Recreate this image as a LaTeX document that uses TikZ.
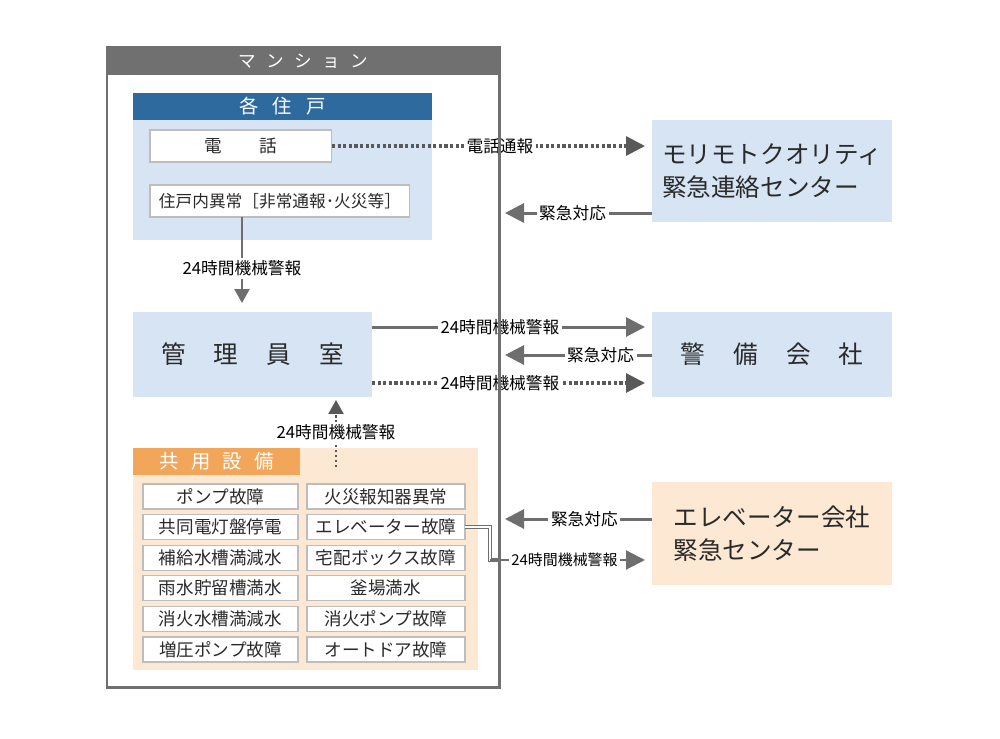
\documentclass[tikz,border=0pt]{standalone}
\usepackage{fontspec}
\setmainfont{Noto Sans CJK JP}
\usetikzlibrary{arrows.meta,calc}

\definecolor{framegray}{HTML}{707070}
\definecolor{linegray}{HTML}{6E6E6E}
\definecolor{unitblue}{HTML}{2E6A9E}
\definecolor{paleblue}{HTML}{D6E4F3}
\definecolor{commonorange}{HTML}{F2A65A}
\definecolor{paleorange}{HTML}{FDE8D3}
\definecolor{cellgray}{HTML}{BDBDBD}
\definecolor{textgray}{HTML}{2A2A2A}

\tikzset{
  region/.style={anchor=north west, inner sep=0pt, outer sep=0pt},
  headband/.style={region, text=white, font=\fontsize{11pt}{13pt}\selectfont},
  whitebox/.style={region, fill=white, draw=cellgray, line width=0.6pt, text=textgray},
  cell/.style={whitebox, minimum height=0.5cm, font=\fontsize{10pt}{12pt}\selectfont},
  bigbox/.style={region, minimum width=4.8cm, text=textgray, font=\fontsize{14pt}{18.5pt}\selectfont, align=left},
  lbl/.style={fill=white, inner sep=1.5pt, text=black, font=\fontsize{9.5pt}{10pt}\selectfont},
  arr/.style={draw=linegray, line width=1.7pt, -{Triangle[length=0.38cm,width=0.38cm]}},
  dotarr/.style={arr, draw=black!65, line width=1.8pt, dash pattern=on 1.8pt off 1.4pt},
  thinarr/.style={draw=linegray, line width=1.2pt, -{Triangle[length=0.28cm,width=0.3cm]}},
  thindot/.style={thinarr, draw=black!65, line width=1.4pt, dash pattern=on 1.4pt off 1.4pt},
  pipe/.style={draw=linegray, line width=0.9pt, double=white, double distance=0.9pt},
}

\begin{document}
\begin{tikzpicture}[x=0.02cm, y=-0.02cm]
  \useasboundingbox (0,0) rectangle (1000,738);

  % マンション
  \node[headband, fill=framegray, minimum width=7.86cm, minimum height=0.56cm,
    font=\fontsize{10pt}{12pt}\selectfont] (mansionhead) at (107,47)
    {マ\hspace{6pt}ン\hspace{6pt}シ\hspace{6pt}ョ\hspace{6pt}ン};

  % 各住戸
  \node[region, fill=paleblue, minimum width=5.98cm, minimum height=2.94cm] (unitbg) at (133,93) {};
  \node[headband, fill=unitblue, minimum width=5.98cm, minimum height=0.54cm] (unithead) at (133,93)
    {各\hspace{8pt}住\hspace{8pt}戸};
  \node[whitebox, minimum width=3.64cm, minimum height=0.64cm, font=\fontsize{10pt}{12pt}\selectfont] (tel) at (150,130)
    {電\hspace{21pt}話};
  \node[whitebox, minimum width=5.2cm, minimum height=0.64cm, font=\fontsize{9.5pt}{12pt}\selectfont] (alarm) at (150,185)
    {住戸内異常［非常通報･火災等］};

  % 管理員室
  \node[region, fill=paleblue, minimum width=4.78cm, minimum height=1.7cm, text=textgray,
    font=\fontsize{14pt}{18pt}\selectfont] (office) at (133,312)
    {管\hspace{16pt}理\hspace{16pt}員\hspace{16pt}室};

  % 共用設備
  \node[region, fill=paleorange, minimum width=6.9cm, minimum height=4.44cm] (commonbg) at (133,448) {};
  \node[headband, fill=commonorange, minimum width=3.34cm, minimum height=0.54cm] (commonhead) at (133,448)
    {共\hspace{7pt}用\hspace{7pt}設\hspace{7pt}備};
  \foreach \ta/\tb [count=\i from 0] in {ポンプ故障/火災報知器異常, 共同電灯盤停電/エレベーター故障,
      補給水槽満減水/宅配ボックス故障, 雨水貯留槽満水/釜場満水, 消火水槽満減水/消火ポンプ故障,
      増圧ポンプ故障/オートドア故障}
  {
    \node[cell, minimum width=3.1cm] (ca\i) at (143,{484+30.6*\i}) {\ta};
    \node[cell, minimum width=3.16cm] (cb\i) at (307,{484+30.6*\i}) {\tb};
  }

  % 外部
  \node[bigbox, fill=paleblue, minimum height=2.04cm] (morimoto) at (652,120)
    {モリモトクオリティ\\緊急連絡センター};
  \node[region, fill=paleblue, minimum width=4.8cm, minimum height=1.7cm, text=textgray,
    font=\fontsize{14pt}{18pt}\selectfont] (security) at (652,312)
    {警\hspace{16pt}備\hspace{16pt}会\hspace{16pt}社};
  \node[bigbox, fill=paleorange, minimum height=2.06cm] (elevator) at (652,482)
    {エレベーター会社\\緊急センター};

  % connectors
  \coordinate (mback) at (505,213);
  \coordinate (adown) at ($(alarm.south west)+(92,0)$);
  \coordinate (otop) at ($(office.north east)+(0,15)$);
  \coordinate (obot) at ($(office.south east)+(0,-14)$);
  \coordinate (sback) at (505,355);
  \coordinate (cup) at ($(commonbg.north west)+(203,19)$);
  \coordinate (eback) at (505,519);
  \coordinate (ebend) at ($(cb1.east)+(25,0)$);
  \coordinate (ealarm) at ($(elevator.south west)+(0,-25)$);

  \draw[dotarr, shorten >=0.14cm] (tel.east) -- node[lbl, pos=0.525] {電話通報} (tel.east -| morimoto.west);
  \draw[arr] (mback -| morimoto.west) -- node[lbl, pos=0.54] {緊急対応} (mback);
  \draw[thinarr, shorten >=0.18cm] (adown) -- node[lbl, pos=0.54] {24時間機械警報} (adown |- office.north);
  \draw[arr, shorten >=0.14cm] (otop) -- node[lbl, pos=0.457] {24時間機械警報} (otop -| security.west);
  \draw[arr] (sback -| security.west) -- node[lbl, pos=0.35] {緊急対応} (sback);
  \draw[dotarr, shorten >=0.14cm] (obot) -- node[lbl, pos=0.457] {24時間機械警報} (obot -| security.west);
  \draw[thindot, shorten >=0.06cm] (cup) -- node[lbl, pos=0.5] {24時間機械警報} (cup |- office.south);
  \draw[arr] (eback -| elevator.west) -- node[lbl, pos=0.46] {緊急対応} (eback);
  \draw[pipe] (cb1.east) -- (ebend) -- (ebend |- ealarm) -- ++(10,0);
  \draw[arr, line width=1.2pt, shorten >=0.14cm] (ebend |- ealarm)
    -- node[lbl, pos=0.46, font=\fontsize{8.5pt}{10pt}\selectfont] {24時間機械警報} (ealarm);

  % マンション frame
  \node[region, draw=framegray, line width=1.7pt, minimum width=7.86cm, minimum height=12.82cm] (mansion) at (107,47) {};
\end{tikzpicture}
\end{document}
